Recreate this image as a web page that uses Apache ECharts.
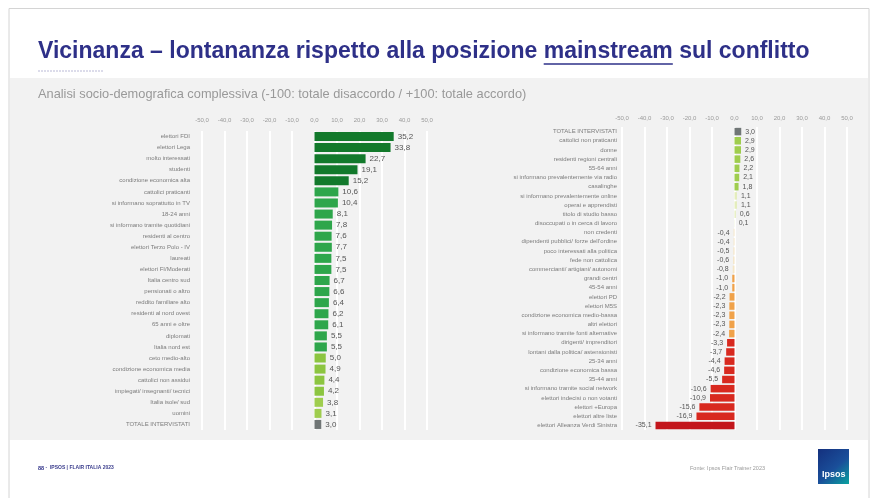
<!DOCTYPE html>
<html>
<head>
<meta charset="utf-8">
<script src="https://cdn.jsdelivr.net/npm/echarts@6/dist/echarts.min.js"></script>
<style>
  html, body { margin: 0; padding: 0; background: #ffffff; }
  #chart { width: 878px; height: 498px; }
</style>
</head>
<body>
<div id="chart"></div>
<script>
// Profili socio-demografici: prima metà (valori più alti)
const leftCategories = [
  'elettori FDI',
  'elettori Lega',
  'molto interessati',
  'studenti',
  'condizione economica alta',
  'cattolici praticanti',
  'si informano soprattutto in TV',
  '18-24 anni',
  'si informano tramite quotidiani',
  'residenti al centro',
  'elettori Terzo Polo - IV',
  'laureati',
  'elettori FI/Moderati',
  'Italia centro sud',
  'pensionati o altro',
  'reddito familiare alto',
  'residenti al nord ovest',
  '65 anni e oltre',
  'diplomati',
  'Italia nord est',
  'ceto medio-alto',
  'condizione economica media',
  'cattolici non assidui',
  'impiegati/ insegnanti/ tecnici',
  'Italia isole/ sud',
  'uomini',
  'TOTALE INTERVISTATI'
];
const leftValues = [35.2, 33.8, 22.7, 19.1, 15.2, 10.6, 10.4, 8.1, 7.8, 7.6, 7.7, 7.5, 7.5,
  6.7, 6.6, 6.4, 6.2, 6.1, 5.5, 5.5, 5.0, 4.9, 4.4, 4.2, 3.8, 3.1, 3.0];

// Seconda metà (valori più bassi)
const rightCategories = [
  'TOTALE INTERVISTATI',
  'cattolici non praticanti',
  'donne',
  'residenti regioni centrali',
  '55-64 anni',
  'si informano prevalentemente via radio',
  'casalinghe',
  'si informano prevalentemente online',
  'operai e apprendisti',
  'titolo di studio basso',
  'disoccupati o in cerca di lavoro',
  'non credenti',
  'dipendenti pubblici/ forze dell\u2019ordine',
  'poco interessati alla politica',
  'fede non cattolica',
  'commercianti/ artigiani/ autonomi',
  'grandi centri',
  '45-54 anni',
  'elettori PD',
  'elettori M5S',
  'condizione economica medio-bassa',
  'altri elettori',
  'si informano tramite fonti alternative',
  'dirigenti/ imprenditori',
  'lontani dalla politica/ astensionisti',
  '25-34 anni',
  'condizione economica bassa',
  '35-44 anni',
  'si informano tramite social network',
  'elettori indecisi o non votanti',
  'elettori +Europa',
  'elettori altre liste',
  'elettori Alleanza Verdi Sinistra'
];
const rightValues = [3.0, 2.9, 2.9, 2.6, 2.2, 2.1, 1.8, 1.1, 1.1, 0.6, 0.1, -0.4, -0.4, -0.5,
  -0.6, -0.8, -1.0, -1.0, -2.2, -2.3, -2.3, -2.3, -2.4, -3.3, -3.7, -4.4, -4.6, -5.5,
  -10.6, -10.9, -15.6, -16.9, -35.1];

const axisMin = -50;
const axisMax = 50;
const axisStep = 10;

const TITLE_PRE = 'Vicinanza \u2013 lontananza rispetto alla posizione ';
const TITLE_KEY = 'mainstream';
const TITLE_POST = ' sul conflitto';
const SUBTITLE = 'Analisi socio-demografica complessiva (-100: totale disaccordo / +100: totale accordo)';
const FOOT_PAGE = '88';
const FOOT_TEXT = ' \u00b7  IPSOS | FLAIR ITALIA 2023';
const FOOT_SOURCE = 'Fonte: Ipsos Flair Trainer 2023';

const TOTAL_LABEL = 'TOTALE INTERVISTATI';
const FONT = '"Liberation Sans", Arial, sans-serif';

function fmt(v) { return v.toFixed(1).replace('.', ','); }

function barColor(v, name) {
  if (name === TOTAL_LABEL) return '#707676';
  if (v >= 15) return '#12792b';
  if (v >= 5.5) return '#2ea64b';
  if (v >= 4) return '#8cc540';
  if (v >= 1.5) return '#9fcd4e';
  if (v >= 0) return '#e4edbd';
  if (v > -0.9) return '#f5e6c6';
  if (v > -3) return '#f0a24a';
  if (v > -25) return '#d8291f';
  return '#c3161c';
}

function buildData(values, cats) {
  return values.map(function (v, i) {
    return {
      value: v,
      itemStyle: { color: barColor(v, cats[i]) },
      label: { position: v < 0 ? 'left' : 'right' }
    };
  });
}

// larghezza testo per posizionare la sottolineatura del titolo
const measureCtx = document.createElement('canvas').getContext('2d');
function textWidth(str, font) {
  measureCtx.font = font;
  return measureCtx.measureText(str).width;
}

const titleFont = 'bold 23px ' + FONT;
const titleX = 38, titleY = 40;
const preW = textWidth(TITLE_PRE, titleFont);
const keyW = textWidth(TITLE_KEY, titleFont);

function valueAxis(gridIndex) {
  return {
    type: 'value',
    gridIndex: gridIndex,
    position: 'top',
    min: axisMin,
    max: axisMax,
    interval: axisStep,
    axisLine: { show: false },
    axisTick: { show: false },
    axisLabel: {
      fontSize: 6,
      color: '#9a9a9a',
      fontFamily: FONT,
      margin: gridIndex === 0 ? 8 : 6,
      formatter: fmt
    },
    splitLine: { show: true, lineStyle: { color: '#ffffff', width: 2 } }
  };
}

function categoryAxis(gridIndex, cats) {
  return {
    type: 'category',
    gridIndex: gridIndex,
    data: cats,
    inverse: true,
    axisLine: { show: false },
    axisTick: { show: false },
    splitLine: { show: false },
    axisLabel: {
      fontSize: 6,
      color: '#7c7c7c',
      fontFamily: FONT,
      margin: gridIndex === 0 ? 12 : 5,
      interval: 0
    },
    position: 'left'
  };
}

const chart = echarts.init(document.getElementById('chart'));

const option = {
  backgroundColor: '#ffffff',
  animation: false,
  grid: [
    { left: 202, width: 225, top: 131, height: 299, containLabel: false, outerBoundsMode: 'none' },
    { left: 622, width: 225, top: 127, height: 303, containLabel: false, outerBoundsMode: 'none' }
  ],
  xAxis: [valueAxis(0), valueAxis(1)],
  yAxis: [categoryAxis(0, leftCategories), categoryAxis(1, rightCategories)],
  series: [
    {
      type: 'bar',
      xAxisIndex: 0,
      yAxisIndex: 0,
      barWidth: 9,
      data: buildData(leftValues, leftCategories),
      label: {
        show: true,
        distance: 4,
        fontSize: 8,
        color: '#555555',
        fontFamily: FONT,
        formatter: function (p) { return fmt(p.value); }
      }
    },
    {
      type: 'bar',
      xAxisIndex: 1,
      yAxisIndex: 1,
      barWidth: 7.5,
      data: buildData(rightValues, rightCategories),
      label: {
        show: true,
        distance: 4,
        fontSize: 7,
        color: '#555555',
        fontFamily: FONT,
        formatter: function (p) { return fmt(p.value); }
      }
    }
  ],
  graphic: [
    // cornice della slide
    { type: 'polyline', silent: true, z: -10,
      shape: { points: [[9, 498], [9, 8.5], [869, 8.5], [869, 498]] },
      style: { stroke: '#d4d4d4', lineWidth: 1, fill: null } },
    // pannello grigio
    { type: 'rect', silent: true, z: -20,
      shape: { x: 10, y: 78, width: 858, height: 362 },
      style: { fill: '#f2f2f2' } },
    // titolo
    { type: 'text', silent: true, left: titleX, top: titleY,
      style: {
        text: TITLE_PRE + TITLE_KEY + TITLE_POST,
        font: titleFont,
        fill: '#2e3088'
      } },
    { type: 'line', silent: true,
      shape: { x1: titleX + preW, y1: titleY + 24, x2: titleX + preW + keyW, y2: titleY + 24 },
      style: { stroke: '#2e3088', lineWidth: 1.5 } },
    { type: 'line', silent: true,
      shape: { x1: 38, y1: 71, x2: 104, y2: 71 },
      style: { stroke: '#b9b9d6', lineWidth: 1, lineDash: [2, 1] } },
    // sottotitolo
    { type: 'text', silent: true, left: 38, top: 88,
      style: { text: SUBTITLE, font: '12.8px ' + FONT, fill: '#999999' } },
    // piè di pagina
    { type: 'text', silent: true, left: 38, top: 465,
      style: {
        text: '{p|' + FOOT_PAGE + '}{t|' + FOOT_TEXT + '}',
        rich: {
          p: { font: 'bold 5.5px ' + FONT, fill: '#2e3088' },
          t: { font: 'bold 5px ' + FONT, fill: '#3a3c8c' }
        }
      } },
    { type: 'text', silent: true, left: 690, top: 465,
      style: { text: FOOT_SOURCE, font: '5.5px ' + FONT, fill: '#9a9a9a' } },
    // logo
    { type: 'rect', silent: true,
      shape: { x: 818, y: 449, width: 31, height: 35 },
      style: {
        fill: new echarts.graphic.LinearGradient(0, 0, 1, 1, [
          { offset: 0, color: '#14307e' },
          { offset: 0.55, color: '#1a4f9a' },
          { offset: 1, color: '#0aa3a0' }
        ])
      } },
    { type: 'text', silent: true, left: 822, top: 470,
      style: { text: 'Ipsos', font: 'bold 9px ' + FONT, fill: '#ffffff' } }
  ]
};

chart.setOption(option);
</script>
</body>
</html>
